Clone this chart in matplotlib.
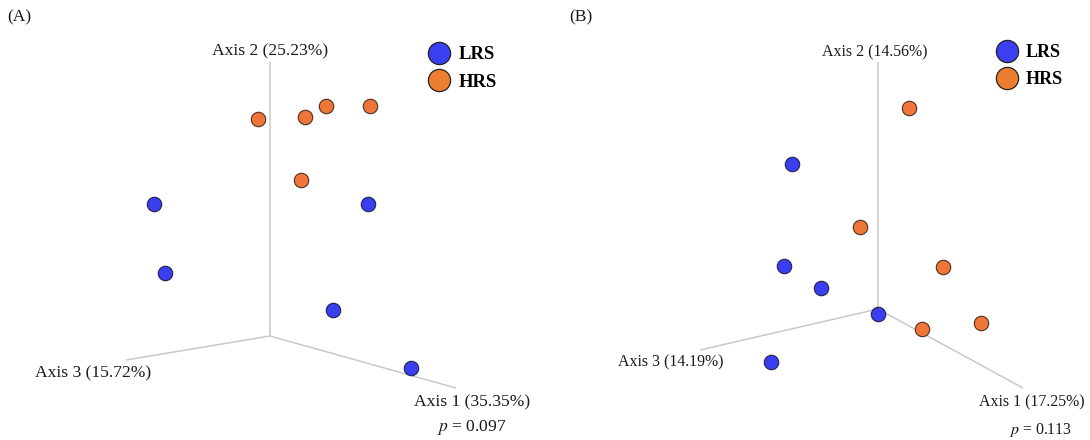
import matplotlib
matplotlib.use("Agg")
import matplotlib.pyplot as plt
from matplotlib.lines import Line2D

plt.rcParams["mathtext.fontset"] = "stix"

# ---------------- data (projected PCoA coordinates, relative to plot origin) ----------------
groups = ["LRS", "HRS"]

# Panel A
a_lrs_x = [-116, 98, -105, 63, 141]
a_lrs_y = [132, 132, 63, 26, -32]
a_hrs_x = [-12, 35, 56, 100, 31]
a_hrs_y = [217, 219, 230, 230, 156]
a_axis_labels = ["Axis 1 (35.35%)", "Axis 2 (25.23%)", "Axis 3 (15.72%)"]
a_axis_ends_x = [186, 0, -144]
a_axis_ends_y = [-52, 274, -24]
a_p = "0.097"

# Panel B
b_lrs_x = [-86, -94, -57, 0, -107]
b_lrs_y = [145, 43, 21, -5, -53]
b_hrs_x = [31, -18, 65, 44, 103]
b_hrs_y = [201, 82, 42, -20, -14]
b_axis_labels = ["Axis 1 (17.25%)", "Axis 2 (14.56%)", "Axis 3 (14.19%)"]
b_axis_ends_x = [145, 0, -178]
b_axis_ends_y = [-79, 247, -41]
b_p = "0.113"

LRS_COLOR = "#3b3ff2"
HRS_COLOR = "#f07538"
LEG_HRS = "#ed7d31"
AXIS_COLOR = "#c8c8c8"
TEXT_COLOR = "#1a1a1a"
SERIF = ["Liberation Serif", "DejaVu Serif"]

W, H = 1090, 440
fig = plt.figure(figsize=(W / 100, H / 100), dpi=100)


def panel(left_px, width_px, origin_px, lrs_x, lrs_y, hrs_x, hrs_y,
          axis_labels, ends_x, ends_y, pval, tag, tag_px, label_offsets,
          p_offset, legend_px, fs, leg_fs):
    ax = fig.add_axes([left_px / W, 0, width_px / W, 1])
    ox, oy = origin_px
    ax.set_xlim(left_px - ox, left_px + width_px - ox)
    ax.set_ylim(oy - H, oy)
    ax.axis("off")
    # axes lines
    for ex, ey in zip(ends_x, ends_y):
        ax.plot([0, ex], [0, ey], color=AXIS_COLOR, lw=1.1, zorder=1,
                solid_capstyle="butt")
    # points
    ax.scatter(hrs_x, hrs_y, s=108, c=HRS_COLOR, edgecolors="#4a3020",
               linewidths=0.8, zorder=3)
    ax.scatter(lrs_x, lrs_y, s=108, c=LRS_COLOR, edgecolors="#22224a",
               linewidths=0.8, zorder=3)
    # axis labels
    for lab, ex, ey, off in zip(axis_labels, ends_x, ends_y, label_offsets):
        ax.annotate(lab, (ex, ey), xytext=off, textcoords="offset pixels",
                    ha="center", va="center", fontsize=fs, family=SERIF,
                    color=TEXT_COLOR)
    ax.annotate("$p$ = " + pval, (ends_x[0], ends_y[0]), xytext=p_offset,
                textcoords="offset pixels", ha="center", va="center",
                fontsize=fs, family=SERIF, color=TEXT_COLOR)
    # tag
    fig.text(tag_px[0] / W, 1 - tag_px[1] / H, tag, ha="left", va="center",
             fontsize=12.6, family=SERIF, color=TEXT_COLOR)
    # legend
    handles = [
        Line2D([], [], marker="o", ls="none", ms=16, mfc=LRS_COLOR,
               mec="#222222", mew=0.9),
        Line2D([], [], marker="o", ls="none", ms=16, mfc=LEG_HRS,
               mec="#222222", mew=0.9),
    ]
    ax.legend(handles, groups, loc="upper left",
              bbox_to_anchor=(legend_px[0] / W, 1 - legend_px[1] / H),
              bbox_transform=fig.transFigure, frameon=False,
              handlelength=1.0, handletextpad=0.55, labelspacing=0.55,
              borderaxespad=0, borderpad=0,
              prop={"family": SERIF, "weight": "bold", "size": leg_fs})
    return ax


panel(0, 545, (270, 336), a_lrs_x, a_lrs_y, a_hrs_x, a_hrs_y,
      a_axis_labels, a_axis_ends_x, a_axis_ends_y, a_p, "(A)", (7, 17),
      [(16, -14), (0, 11), (-33, -13)], (16, -39), (430, 46), 12.6, 13.5)

panel(545, 545, (878, 309), b_lrs_x, b_lrs_y, b_hrs_x, b_hrs_y,
      b_axis_labels, b_axis_ends_x, b_axis_ends_y, b_p, "(B)", (569, 17),
      [(9, -14), (-3, 10), (-29, -12)], (18, -42), (998, 44), 11.4, 13.0)

fig.savefig("out.png", dpi=100, facecolor="white")
